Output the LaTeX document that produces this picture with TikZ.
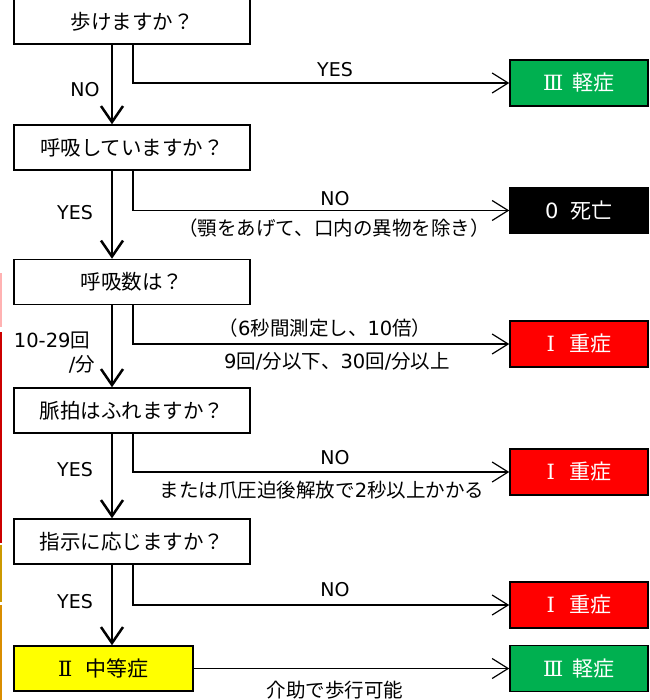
\documentclass[tikz,border=0pt]{standalone}
\usepackage{fontspec}
\setmainfont{Noto Sans CJK JP}
\newfontfamily\latn{DejaVu Sans}
\newfontfamily\rnum{DejaVu Serif}
\usetikzlibrary{arrows.meta,positioning}
\definecolor{mild}{HTML}{00B050}
\definecolor{severe}{HTML}{FF0000}
\definecolor{moderate}{HTML}{FFFF00}
\tikzset{ask/.style={draw,line width=1.5pt,minimum width=236pt,minimum height=45pt,inner sep=0pt,font=\fontsize{20.5}{20.5}\selectfont}}
\tikzset{grade/.style={draw,line width=1.5pt,minimum width=138pt,minimum height=46pt,inner sep=0pt,text=white,font=\fontsize{21}{21}\selectfont}}
\tikzset{flow/.style={line width=2.5pt,-{Straight Barb[length=16pt,width=22pt]}}}
\tikzset{branch/.style={line width=1.2pt,-{Straight Barb[length=16pt,width=20pt]}}}
\tikzset{lbl/.style={inner sep=0pt,font=\fontsize{19.5}{19.5}\selectfont}}
\tikzset{yn/.style={inner sep=0pt,font=\latn\fontsize{19}{19}\selectfont}}

\begin{document}
\begin{tikzpicture}[x=1pt,y=-1pt]
\useasboundingbox (0,0) rectangle (649,700);
\fill[red!30] (0,273) rectangle (1.5,327);
\fill[red!80!black] (0,332) rectangle (1.5,543);
\fill[orange!50!yellow!80!black] (0,545) rectangle (1.5,602);
\fill[orange!70!yellow!85!black] (0,605) rectangle (1.5,700);

\node[ask] (walk) at (132,21.5) {歩けますか？};
\node[ask] (breath) at (132,147.5) {呼吸していますか？};
\node[ask] (rate) at (132,282) {呼吸数は？};
\node[ask] (pulse) at (132,410.5) {脈拍はふれますか？};
\node[ask] (obey) at (132,541.5) {指示に応じますか？};
\node[ask,fill=moderate,minimum width=179pt,font=\fontsize{21}{21}\selectfont] (mid) at (103.5,668.5) {{\rnum Ⅱ}\hspace{0.65em}中等症};

\node[grade,fill=mild] (g1) at (579,83) {{\rnum Ⅲ}\hspace{0.45em}軽症};
\node[grade,fill=black] (dead) at (579,210.5) {{\latn 0}\hspace{0.6em}死亡};
\node[grade,fill=severe] (s1) at (579,344) {{\rnum Ⅰ}\hspace{0.7em}重症};
\node[grade,fill=severe] (s2) at (579,472) {{\rnum Ⅰ}\hspace{0.7em}重症};
\node[grade,fill=severe] (s3) at (579,605) {{\rnum Ⅰ}\hspace{0.7em}重症};
\node[grade,fill=mild] (g2) at (579,668.5) {{\rnum Ⅲ}\hspace{0.45em}軽症};

\draw[flow] ([xshift=-20pt]walk.south) -- ([xshift=-20pt]breath.north);
\draw[flow] ([xshift=-20pt]breath.south) -- ([xshift=-20pt]rate.north);
\draw[flow] ([xshift=-20pt]rate.south) -- ([xshift=-20pt]pulse.north);
\draw[flow] ([xshift=-20pt]pulse.south) -- ([xshift=-20pt]obey.north);
\draw[flow] ([xshift=-20pt]obey.south) -- ([xshift=-20pt]obey.south |- mid.north);

\draw[branch] ([xshift=1pt]walk.south) |- (g1.west);
\draw[branch] ([xshift=1pt]breath.south) |- (dead.west);
\draw[branch] ([xshift=1pt]rate.south) |- (s1.west);
\draw[branch] ([xshift=1pt]pulse.south) |- (s2.west);
\draw[branch] ([xshift=1pt]obey.south) |- (s3.west);
\draw[branch] (mid.east) -- (g2.west);

\node[yn] (n1) at (85,90) {NO};
\node[yn] (y1) at (335,70) {YES};
\node[yn] (y2) at (75,213) {YES};
\node[yn] (n2) at (335,199) {NO};
\node[lbl] (t2) at (334,228) {（顎をあげて、口内の異物を除き）};
\node[lbl] (c3a) at (52,340) {{\latn 10-29}回};
\node[lbl] (c3b) at (82,364) {{\latn /}分};
\node[lbl] (t3a) at (325,328) {（{\latn 6}秒間測定し、{\latn 10}倍）};
\node[lbl] (t3b) at (337,361) {{\latn 9}回{\latn /}分以下、{\latn 30}回{\latn /}分以上};
\node[yn] (y4) at (75,470) {YES};
\node[yn] (n4) at (335,458) {NO};
\node[lbl] (t4) at (322,490) {または爪圧迫後解放で{\latn 2}秒以上かかる};
\node[yn] (y5) at (75,602) {YES};
\node[yn] (n5) at (335,590) {NO};
\node[lbl] (t6) at (335,690) {介助で歩行可能};
\end{tikzpicture}
\end{document}
